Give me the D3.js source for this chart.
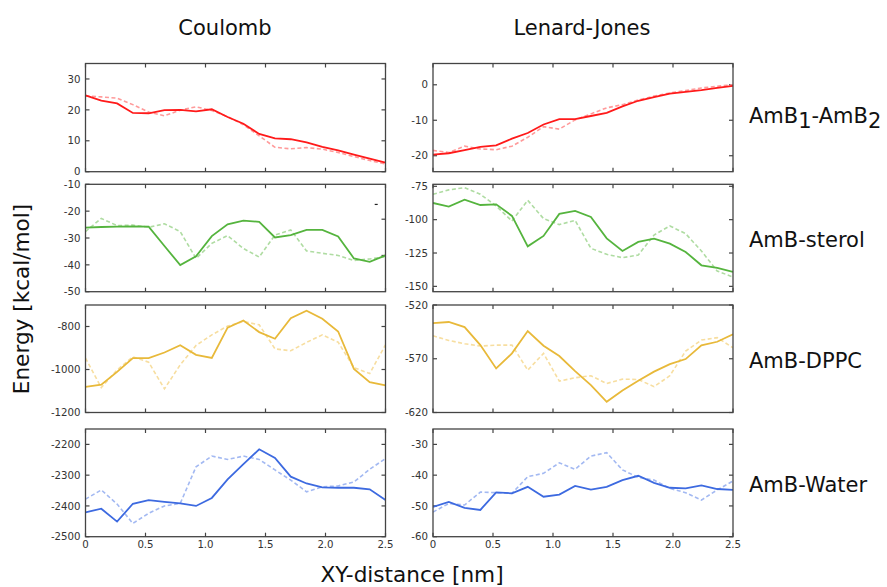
<!DOCTYPE html>
<html>
<head>
<meta charset="utf-8">
<script src="https://cdn.jsdelivr.net/npm/d3@7"></script>
<style>
  html, body { margin: 0; padding: 0; background: #fff; }
  svg { display: block; font-family: "DejaVu Sans", sans-serif; }
</style>
</head>
<body>
<svg id="chart" width="887" height="587"></svg>
<script>
// XY-distance grid (nm): 20 samples from 0 to 2.5
const distance = [0, 0.1316, 0.2632, 0.3947, 0.5263, 0.6579, 0.7895, 0.9211, 1.0526, 1.1842,
                  1.3158, 1.4474, 1.5789, 1.7105, 1.8421, 1.9737, 2.1053, 2.2368, 2.3684, 2.5];

const columns = ["Coulomb", "Lenard-Jones"];
const rows = ["AmB1-AmB2", "AmB-sterol", "AmB-DPPC", "AmB-Water"];

// AmB1-AmB2
const amb_coul_solid  = [24.7, 23.0, 22.1, 19.0, 18.9, 19.9, 20.0, 19.5, 20.2, 17.7, 15.5, 12.2, 10.8, 10.5, 9.5, 8.0, 6.9, 5.5, 4.2, 2.9];
const amb_coul_dashed = [24.5, 24.2, 23.8, 21.7, 19.3, 18.1, 19.9, 21.0, 19.8, 17.8, 15.2, 11.6, 7.9, 7.4, 7.8, 7.3, 6.2, 4.9, 3.6, 2.5];
const amb_lj_solid    = [-19.7, -19.3, -18.4, -17.5, -17.1, -15.2, -13.6, -11.2, -9.7, -9.7, -8.8, -7.9, -6.1, -4.5, -3.5, -2.5, -2.0, -1.5, -0.9, -0.3];
const amb_lj_dashed   = [-18.5, -19.1, -17.3, -18.1, -18.3, -17.3, -14.8, -11.8, -12.5, -9.9, -8.2, -6.5, -5.6, -4.3, -3.2, -2.3, -1.6, -0.9, -0.4, 0.0];

// AmB-sterol
const sterol_coul_solid  = [-26.1, -25.9, -25.8, -25.7, -25.8, -33.0, -40.1, -36.8, -29.3, -24.9, -23.5, -24.0, -29.8, -28.9, -27.0, -27.0, -29.4, -37.6, -38.9, -36.5];
const sterol_coul_dashed = [-27.6, -22.7, -25.4, -25.2, -26.0, -24.7, -27.6, -37.6, -32.0, -29.1, -33.9, -37.1, -28.9, -27.0, -34.8, -35.7, -36.5, -38.4, -37.8, -37.0];
const sterol_lj_solid    = [-87.5, -90.2, -85.0, -89.0, -88.5, -97.2, -120.0, -112.2, -95.7, -93.5, -98.0, -114.0, -123.5, -116.7, -114.2, -118.0, -124.2, -134.2, -136.2, -139.2];
const sterol_lj_dashed   = [-81.0, -77.7, -76.0, -81.0, -89.7, -101.0, -85.5, -99.2, -103.7, -100.5, -121.5, -126.0, -128.5, -126.5, -111.5, -104.7, -110.5, -123.5, -138.5, -143.0];

// AmB-DPPC
const dppc_coul_solid  = [-1081, -1071, -1011, -947, -947, -921, -887, -932, -946, -805, -772, -826, -857, -761, -727, -764, -823, -997, -1059, -1074];
const dppc_coul_dashed = [-947, -1084, -1002, -941, -966, -1090, -978, -888, -839, -798, -777, -792, -904, -913, -874, -839, -873, -991, -1019, -885];
const dppc_lj_solid    = [-536.8, -535.8, -540.5, -557.3, -579.0, -565.0, -544.2, -557.9, -567.5, -581.5, -594.5, -610.0, -599.5, -590.5, -582.0, -575.0, -570.3, -557.6, -554.2, -547.3];
const dppc_lj_dashed   = [-548.6, -553.0, -556.0, -558.2, -557.3, -557.3, -580.6, -565.0, -590.8, -587.7, -585.8, -593.0, -589.0, -589.3, -596.0, -585.8, -562.9, -552.6, -550.4, -559.8];

// AmB-Water
const water_coul_solid  = [-2421, -2409, -2451, -2393, -2381, -2387, -2392, -2400, -2374, -2314, -2264, -2216, -2244, -2305, -2327, -2340, -2341, -2341, -2346, -2381];
const water_coul_dashed = [-2378, -2348, -2394, -2457, -2424, -2400, -2392, -2273, -2238, -2249, -2238, -2249, -2283, -2316, -2354, -2338, -2335, -2322, -2281, -2246];
const water_lj_solid    = [-50.3, -48.7, -50.6, -51.3, -45.6, -45.9, -43.8, -47.0, -46.3, -43.5, -44.7, -43.8, -41.6, -40.2, -42.5, -44.1, -44.3, -43.3, -44.5, -44.8];
const water_lj_dashed   = [-52.0, -49.2, -49.7, -45.5, -45.7, -45.9, -40.5, -39.4, -36.0, -38.1, -33.8, -32.7, -38.3, -40.7, -41.6, -44.3, -45.7, -48.1, -44.8, -41.9];

// y-axis ranges and tick labels per panel [row][col]
const yDomains = [
  [[0, 35], [-24.5, 6]],
  [[-50, -10], [-154, -73.5]],
  [[-1200, -700], [-620, -520]],
  [[-2500, -2150], [-60, -25]]
];
const yTicks = [
  [[0, 10, 20, 30], [-20, -10, 0]],
  [[-50, -40, -30, -20, -10], [-150, -125, -100, -75]],
  [[-1200, -1000, -800], [-620, -570, -520]],
  [[-2500, -2400, -2300, -2200], [-60, -50, -40, -30]]
];
// right-hand ticks of the Coulomb sterol panel sit off the left grid
const sterolCoulRightTicks = [-23, -36.5];
const xTicks = [0, 0.5, 1.0, 1.5, 2.0, 2.5];

const series = [
  [[amb_coul_solid, amb_coul_dashed], [amb_lj_solid, amb_lj_dashed]],
  [[sterol_coul_solid, sterol_coul_dashed], [sterol_lj_solid, sterol_lj_dashed]],
  [[dppc_coul_solid, dppc_coul_dashed], [dppc_lj_solid, dppc_lj_dashed]],
  [[water_coul_solid, water_coul_dashed], [water_lj_solid, water_lj_dashed]]
];

const rowColors = [
  { solid: "#ff1a1a", dashed: "#ff9a9a" },
  { solid: "#55b43e", dashed: "#afdca2" },
  { solid: "#e8b93a", dashed: "#f7dea0" },
  { solid: "#3d6ae0", dashed: "#a3b9f2" }
];

// layout
const colX = [[85.5, 385.5], [433, 733]];
const rowY = [[63.5, 171.7], [184.3, 291.7], [305, 412.5], [429, 536.7]];

const svg = d3.select("#chart");
const tickLen = 4;
const axisColor = "#444";
const labelColor = "#333";
const fmtTick = d => String(d);   // plain hyphen-minus labels

rows.forEach((rowName, r) => {
  columns.forEach((colName, c) => {
    const [x0, x1] = colX[c];
    const [y0, y1] = rowY[r];
    const x = d3.scaleLinear().domain([0, 2.5]).range([x0, x1]);
    const y = d3.scaleLinear().domain(yDomains[r][c]).range([y1, y0]);
    const g = svg.append("g");

    // inward ticks on all four sides
    const tk = g.append("g").attr("stroke", axisColor).attr("stroke-width", 1.2);
    xTicks.forEach(t => {
      tk.append("line").attr("x1", x(t)).attr("x2", x(t)).attr("y1", y1).attr("y2", y1 - tickLen);
      tk.append("line").attr("x1", x(t)).attr("x2", x(t)).attr("y1", y0).attr("y2", y0 + tickLen);
    });
    const rightTicks = (r === 1 && c === 0) ? sterolCoulRightTicks : yTicks[r][c];
    yTicks[r][c].forEach(t => {
      tk.append("line").attr("x1", x0).attr("x2", x0 + tickLen).attr("y1", y(t)).attr("y2", y(t));
    });
    rightTicks.forEach(t => {
      tk.append("line").attr("x1", x1).attr("x2", x1 - tickLen).attr("y1", y(t)).attr("y2", y(t));
    });
    if (r === 1 && c === 0) {
      // small dash near the upper right corner
      tk.append("line").attr("x1", x(2.41)).attr("x2", x(2.435))
        .attr("y1", y(-17.5)).attr("y2", y(-17.5)).attr("stroke", "#222");
    }

    // y tick labels
    g.append("g").selectAll("text").data(yTicks[r][c]).join("text")
      .attr("x", x0 - 5).attr("y", d => y(d)).attr("dy", "0.36em")
      .attr("text-anchor", "end").attr("font-size", 10.2).attr("fill", labelColor)
      .text(fmtTick);

    // x tick labels on the bottom row
    if (r === rows.length - 1) {
      g.append("g").selectAll("text").data(xTicks).join("text")
        .attr("x", d => x(d)).attr("y", y1 + 11.5)
        .attr("text-anchor", "middle").attr("font-size", 10.2).attr("fill", labelColor)
        .text(d => d === 0 ? "0" : d3.format(".1f")(d));
    }

    const line = d3.line().x((d, i) => x(distance[i])).y(d => y(d));
    const [solid, dashed] = series[r][c];

    const clipId = `clip-${r}-${c}`;
    svg.append("clipPath").attr("id", clipId).append("rect")
      .attr("x", x0).attr("y", y0).attr("width", x1 - x0).attr("height", y1 - y0);

    const lines = g.append("g").attr("clip-path", `url(#${clipId})`);
    lines.append("path").datum(dashed)
      .attr("d", line).attr("fill", "none")
      .attr("stroke", rowColors[r].dashed).attr("stroke-width", 1.6)
      .attr("stroke-dasharray", "4,2.5");
    lines.append("path").datum(solid)
      .attr("d", line).attr("fill", "none")
      .attr("stroke", rowColors[r].solid).attr("stroke-width", 1.8);

    // frame
    g.append("rect").attr("x", x0).attr("y", y0)
      .attr("width", x1 - x0).attr("height", y1 - y0)
      .attr("fill", "none").attr("stroke", axisColor).attr("stroke-width", 1.3);
  });
});

// column titles
svg.append("text").attr("x", 225).attr("y", 35).attr("text-anchor", "middle")
  .attr("font-size", 21).attr("fill", "#111").text(columns[0]);
svg.append("text").attr("x", 582).attr("y", 35).attr("text-anchor", "middle")
  .attr("font-size", 21).attr("fill", "#111").text(columns[1]);

// row labels
const rowLabelY = [123, 247, 368, 492];
const first = svg.append("text").attr("x", 749).attr("y", rowLabelY[0])
  .attr("font-size", 21).attr("fill", "#111");
first.append("tspan").text("AmB");
first.append("tspan").attr("dy", 5).text("1");
first.append("tspan").attr("dy", -5).text("-AmB");
first.append("tspan").attr("dy", 5).text("2");
rows.slice(1).forEach((name, i) => {
  svg.append("text").attr("x", 749).attr("y", rowLabelY[i + 1])
    .attr("font-size", 21).attr("fill", "#111").text(name);
});

// axis titles
svg.append("text").attr("transform", "translate(29,299) rotate(-90)")
  .attr("text-anchor", "middle").attr("font-size", 21.6).attr("fill", "#111")
  .text("Energy [kcal/mol]");
svg.append("text").attr("x", 412).attr("y", 582).attr("text-anchor", "middle")
  .attr("font-size", 21.6).attr("fill", "#111").text("XY-distance [nm]");
</script>
</body>
</html>
